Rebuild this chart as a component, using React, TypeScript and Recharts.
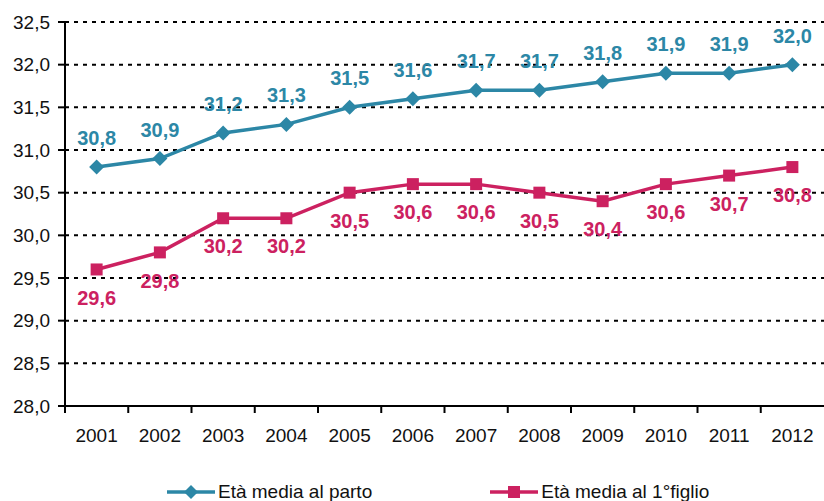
import React from 'react'
import {
  LineChart, Line, XAxis, YAxis, CartesianGrid, LabelList,
} from 'recharts'

const years = ['2001', '2002', '2003', '2004', '2005', '2006', '2007', '2008', '2009', '2010', '2011', '2012']
const etaParto = [30.8, 30.9, 31.2, 31.3, 31.5, 31.6, 31.7, 31.7, 31.8, 31.9, 31.9, 32.0]
const etaPrimoFiglio = [29.6, 29.8, 30.2, 30.2, 30.5, 30.6, 30.6, 30.5, 30.4, 30.6, 30.7, 30.8]
const yTicks = [28, 28.5, 29, 29.5, 30, 30.5, 31, 31.5, 32, 32.5]

const BLUE = '#2c87a6'
const RED = '#cc2160'
const FONT = '"Liberation Sans", Arial, sans-serif'

const W = 824
const H = 501
const LEFT = 65
const BAND = (W - LEFT) / years.length

const data = years.map((y, i) => ({ year: y, parto: etaParto[i], primo: etaPrimoFiglio[i] }))

const fmt = (v: number) => v.toFixed(1).replace('.', ',')

const Diamond = ({ cx, cy }: any) => (
  <path d={`M${cx},${cy - 7.5} L${cx + 7.5},${cy} L${cx},${cy + 7.5} L${cx - 7.5},${cy} Z`} fill={BLUE} />
)
const Square = ({ cx, cy }: any) => (
  <rect x={cx - 6} y={cy - 6} width={12} height={12} fill={RED} />
)

// labels centred on the year, tick marks on the band boundaries
const XTick = ({ x, y, payload }: any) => (
  <g>
    <line x1={x - BAND / 2} x2={x - BAND / 2} y1={y} y2={y + 7} stroke="#000" strokeWidth={2} />
    <text x={x} y={y + 36} textAnchor="middle" fill="#111" fontSize={19} fontFamily={FONT}>{payload.value}</text>
  </g>
)

function LegendItem({ color, label, square }: { color: string; label: string; square?: boolean }) {
  return (
    <div style={{ display: 'flex', alignItems: 'center', whiteSpace: 'nowrap' }}>
      <svg width={48} height={14}>
        <line x1={0} x2={48} y1={7} y2={7} stroke={color} strokeWidth={3.5} />
        {square
          ? <rect x={18} y={1} width={12} height={12} fill={color} />
          : <path d="M24,0 L31,7 L24,14 L17,7 Z" fill={color} />}
      </svg>
      <span style={{ marginLeft: 3, fontSize: 19, color: '#111' }}>{label}</span>
    </div>
  )
}

export default function App() {
  return (
    <div style={{ position: 'absolute', left: 0, top: 0, width: W, height: H, background: '#fff', fontFamily: FONT, overflow: 'hidden' }}>
      <LineChart width={W} height={H} data={data} margin={{ top: 22, right: 0, bottom: 45, left: 0 }}>
        <CartesianGrid vertical={false} stroke="#000" strokeWidth={2} strokeDasharray="4 5" horizontalValues={yTicks.filter(t => t > 28)} />
        <XAxis dataKey="year" height={50} axisLine={{ stroke: '#000', strokeWidth: 2 }} tickLine={false}
          tickSize={0} tickMargin={0}
          tick={<XTick />} interval={0} padding={{ left: BAND / 2, right: BAND / 2 }} />
        <YAxis width={LEFT} domain={[28, 32.5]} ticks={yTicks} tickFormatter={fmt}
          axisLine={{ stroke: '#000', strokeWidth: 2 }} tickLine={{ stroke: '#000', strokeWidth: 2 }}
          tickSize={7} tickMargin={8} tick={{ fill: '#111', fontSize: 19, fontFamily: FONT }} />
        <Line dataKey="parto" stroke={BLUE} strokeWidth={3.5} dot={<Diamond />} isAnimationActive={false}>
          <LabelList dataKey="parto" position="top" offset={22} formatter={(v: any) => fmt(Number(v))}
            fill={BLUE} fontSize={20} fontWeight="bold" fontFamily={FONT} />
        </Line>
        <Line dataKey="primo" stroke={RED} strokeWidth={3.5} dot={<Square />} isAnimationActive={false}>
          <LabelList dataKey="primo" position="bottom" offset={21} formatter={(v: any) => fmt(Number(v))}
            fill={RED} fontSize={20} fontWeight="bold" fontFamily={FONT} />
        </Line>
      </LineChart>
      <div style={{ position: 'absolute', left: 167, top: 481, display: 'flex', gap: 118, width: 700 }}>
        <LegendItem color={BLUE} label="Età media al parto" />
        <LegendItem color={RED} label="Età media al 1°figlio" square />
      </div>
    </div>
  )
}
